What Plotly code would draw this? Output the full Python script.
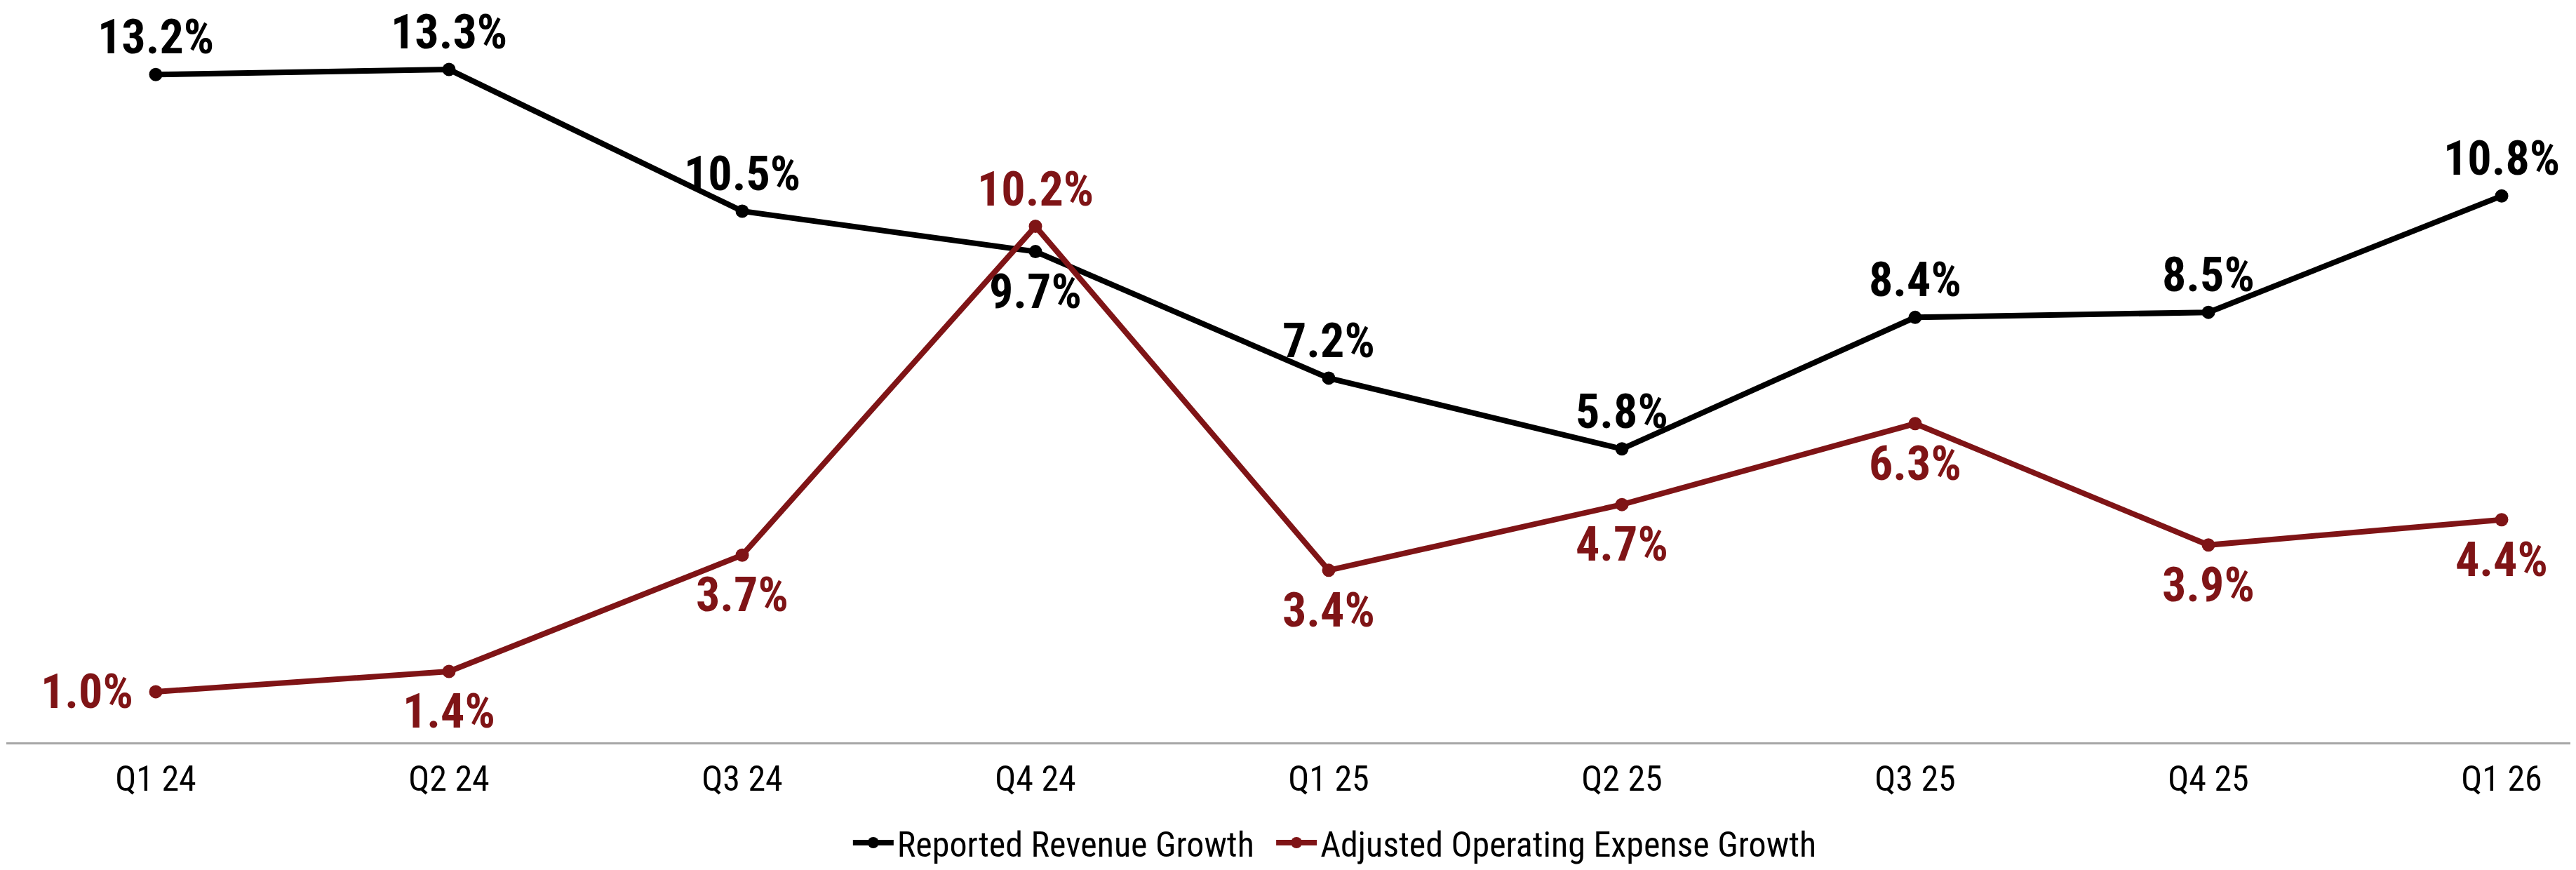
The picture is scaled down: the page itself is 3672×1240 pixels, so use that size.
import plotly.graph_objects as go

quarters = ["Q1 24", "Q2 24", "Q3 24", "Q4 24", "Q1 25", "Q2 25", "Q3 25", "Q4 25", "Q1 26"]
revenue_growth = [13.2, 13.3, 10.5, 9.7, 7.2, 5.8, 8.4, 8.5, 10.8]
opex_growth = [1.0, 1.4, 3.7, 10.2, 3.4, 4.7, 6.3, 3.9, 4.4]
revenue_label_pos = ["above", "above", "above", "below", "above", "above", "above", "above", "above"]
opex_label_pos = ["left", "below", "below", "above", "below", "below", "below", "below", "below"]

BLACK = "#000000"
RED = "#7F1416"
COND = "Roboto Condensed, Roboto, Liberation Sans, sans-serif"

xs = list(range(len(quarters)))

fig = go.Figure()
fig.add_trace(go.Scatter(
    x=xs, y=revenue_growth, mode="lines+markers", name="Reported Revenue Growth",
    line=dict(color=BLACK, width=8), marker=dict(color=BLACK, size=19), legend="legend",
))
fig.add_trace(go.Scatter(
    x=xs, y=opex_growth, mode="lines+markers", name="Adjusted Operating Expense Growth",
    line=dict(color=RED, width=8), marker=dict(color=RED, size=19), legend="legend2",
))

def add_labels(values, positions, color):
    for i, (v, p) in enumerate(zip(values, positions)):
        kw = dict(x=i, y=v, text=f"{v:.1f}%", showarrow=False,
                  font=dict(family=COND, size=68, color=color, weight="bold"))
        if p == "above":
            kw.update(yanchor="bottom", xanchor="center", yshift=11)
        elif p == "below":
            kw.update(yanchor="top", xanchor="center", yshift=-15)
        else:
            kw.update(yanchor="middle", xanchor="right", xshift=-30)
        fig.add_annotation(**kw)

add_labels(revenue_growth, revenue_label_pos, BLACK)
add_labels(opex_growth, opex_label_pos, RED)

legend_style = dict(orientation="h", xanchor="left", y=-0.1362, yanchor="middle",
                    font=dict(family=COND, size=50, color=BLACK), itemwidth=58,
                    bgcolor="rgba(0,0,0,0)")

fig.update_layout(
    width=3664, height=1232,
    margin=dict(l=1, r=0, t=0, b=182, autoexpand=False),
    plot_bgcolor="white", paper_bgcolor="white",
    showlegend=True,
    legend=dict(x=0.3281, **legend_style),
    legend2=dict(x=0.4928, **legend_style),
    font=dict(family=COND),
)
fig.update_xaxes(
    range=[-0.5096, 8.2536], tickmode="array", tickvals=xs, ticktext=quarters,
    showgrid=False, zeroline=False, showline=True, linecolor="#A6A6A6", linewidth=3,
    ticks="", tickfont=dict(family=COND, size=50, color=BLACK), ticklabelstandoff=6,
    automargin=False,
)
fig.update_yaxes(range=[0, 14.563], visible=False, showgrid=False, zeroline=False, automargin=False)

fig.write_html("out.html")
